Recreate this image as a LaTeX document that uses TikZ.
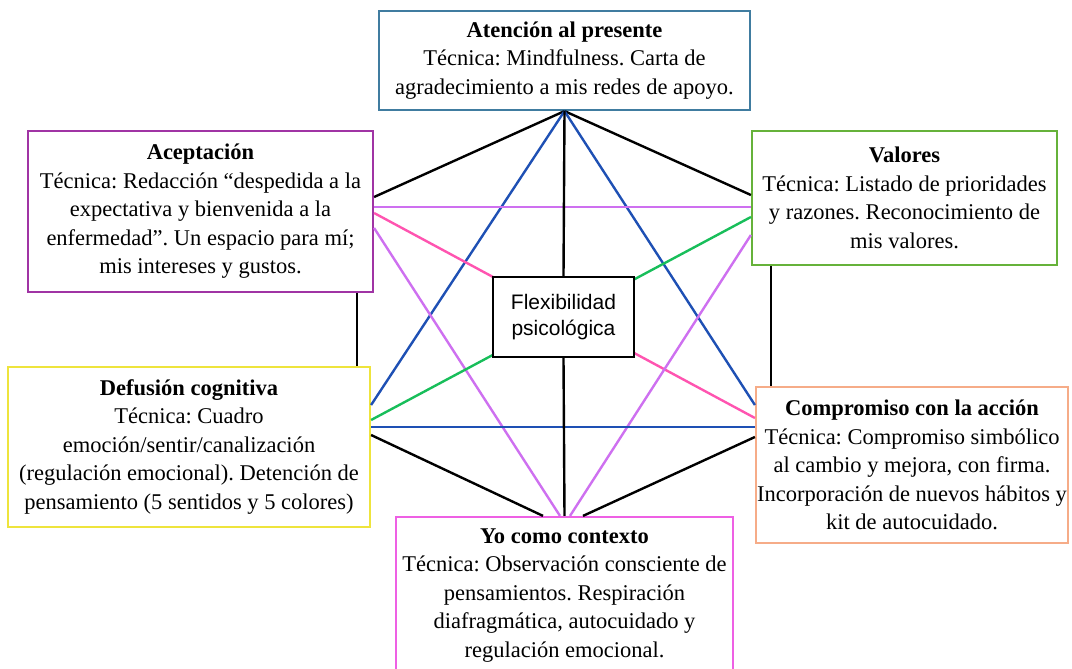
\documentclass[tikz,border=0pt]{standalone}
\usepackage{fontspec}
\setmainfont{Liberation Serif}
\newfontfamily\flexfont{Liberation Sans}
\frenchspacing
\definecolor{presblue}{RGB}{64,124,160}
\definecolor{acepurple}{RGB}{160,52,164}
\definecolor{valgreen}{RGB}{102,178,58}
\definecolor{defyellow}{RGB}{238,228,60}
\definecolor{compsalmon}{RGB}{246,172,136}
\definecolor{yomagenta}{RGB}{238,96,228}
\definecolor{lineblue}{RGB}{30,80,180}
\definecolor{lineviolet}{RGB}{206,112,240}
\definecolor{linepink}{RGB}{255,84,176}
\definecolor{linegreen}{RGB}{24,190,90}
\begin{document}
\begin{tikzpicture}[
        x=1pt, y=-1pt,
        box/.style={draw, line width=2.2pt, fill=white, align=center, inner sep=0pt,
            font=\fontsize{22.5}{28.5}\selectfont},
        link/.style={line width=2.4pt}
    ]
        \useasboundingbox (0,0) rectangle (1072,669);
        % hexagon of techniques
        \node[box, draw=presblue, minimum width=371pt, minimum height=99pt] (presente) at (564.5,60.5)
            {\textbf{Atención al presente}\\Técnica: Mindfulness. Carta de\\agradecimiento a mis redes de apoyo.};
        \node[box, draw=acepurple, minimum width=345pt, minimum height=161pt] (acep) at (200.5,211.5)
            {\textbf{Aceptación}\\Técnica: Redacción “despedida a la\\expectativa y bienvenida a la\\enfermedad”. Un espacio para mí;\\mis intereses y gustos.};
        \node[box, draw=valgreen, minimum width=305pt, minimum height=134pt] (valo) at (904.5,198)
            {\textbf{Valores}\\Técnica: Listado de prioridades\\y razones. Reconocimiento de\\mis valores.};
        \node[box, draw=defyellow, minimum width=362pt, minimum height=160pt] (defu) at (189,447)
            {\textbf{Defusión cognitiva}\\Técnica: Cuadro\\emoción/sentir/canalización\\(regulación emocional). Detención de\\pensamiento (5 sentidos y 5 colores)};
        \node[box, draw=compsalmon, minimum width=312pt, minimum height=156pt] (comp) at (912,465)
            {\textbf{Compromiso con la acción}\\Técnica: Compromiso simbólico\\al cambio y mejora, con firma.\\Incorporación de nuevos hábitos y\\kit de autocuidado.};
        \node[box, draw=yomagenta, minimum width=337pt, minimum height=157pt] (yo) at (564.5,595.5)
            {\textbf{Yo como contexto}\\Técnica: Observación consciente de\\pensamientos. Respiración\\diafragmática, autocuidado y\\regulación emocional.};
        % connections
        \draw[link] (presente.south) -- (acep.east |- 0,197);
        \draw[link] (presente.south) -- (valo.west |- 0,195);
        \draw[link, lineblue] (presente.south) -- (defu.east |- 0,405);
        \draw[link, lineblue] (presente.south) -- (comp.west |- 0,405);
        \draw[link, lineviolet] (acep.east |- 0,207) -- (valo.west |- 0,207);
        \draw[link, linepink] (acep.east |- 0,213) -- (comp.west |- 0,418);
        \draw[link, lineviolet] (acep.east |- 0,228) -- (560,0 |- yo.north);
        \draw[link, linegreen] (valo.west |- 0,217) -- (defu.east |- 0,420);
        \draw[link, lineviolet] (valo.west |- 0,235) -- (570,0 |- yo.north);
        \draw[link, lineblue] (defu.east |- 0,427) -- (comp.west |- 0,427);
        \draw[link] (defu.east |- 0,435) -- (543,0 |- yo.north);
        \draw[link] (comp.west |- 0,437) -- (583,0 |- yo.north);
        \draw[link] (357,0 |- acep.south) -- (357,0 |- defu.north);
        \draw[link] (771,0 |- valo.south) -- (771,0 |- comp.north);
        % center
        \node[box, font=\flexfont\fontsize{21}{26}\selectfont, minimum width=141pt, minimum height=80pt] (flex) at (563.5,317)
            {Flexibilidad\\psicológica};
        \draw[link] (presente.south) -- (flex.north);
        \draw[link] (flex.south) -- (yo.north);
    \end{tikzpicture}
\end{document}
